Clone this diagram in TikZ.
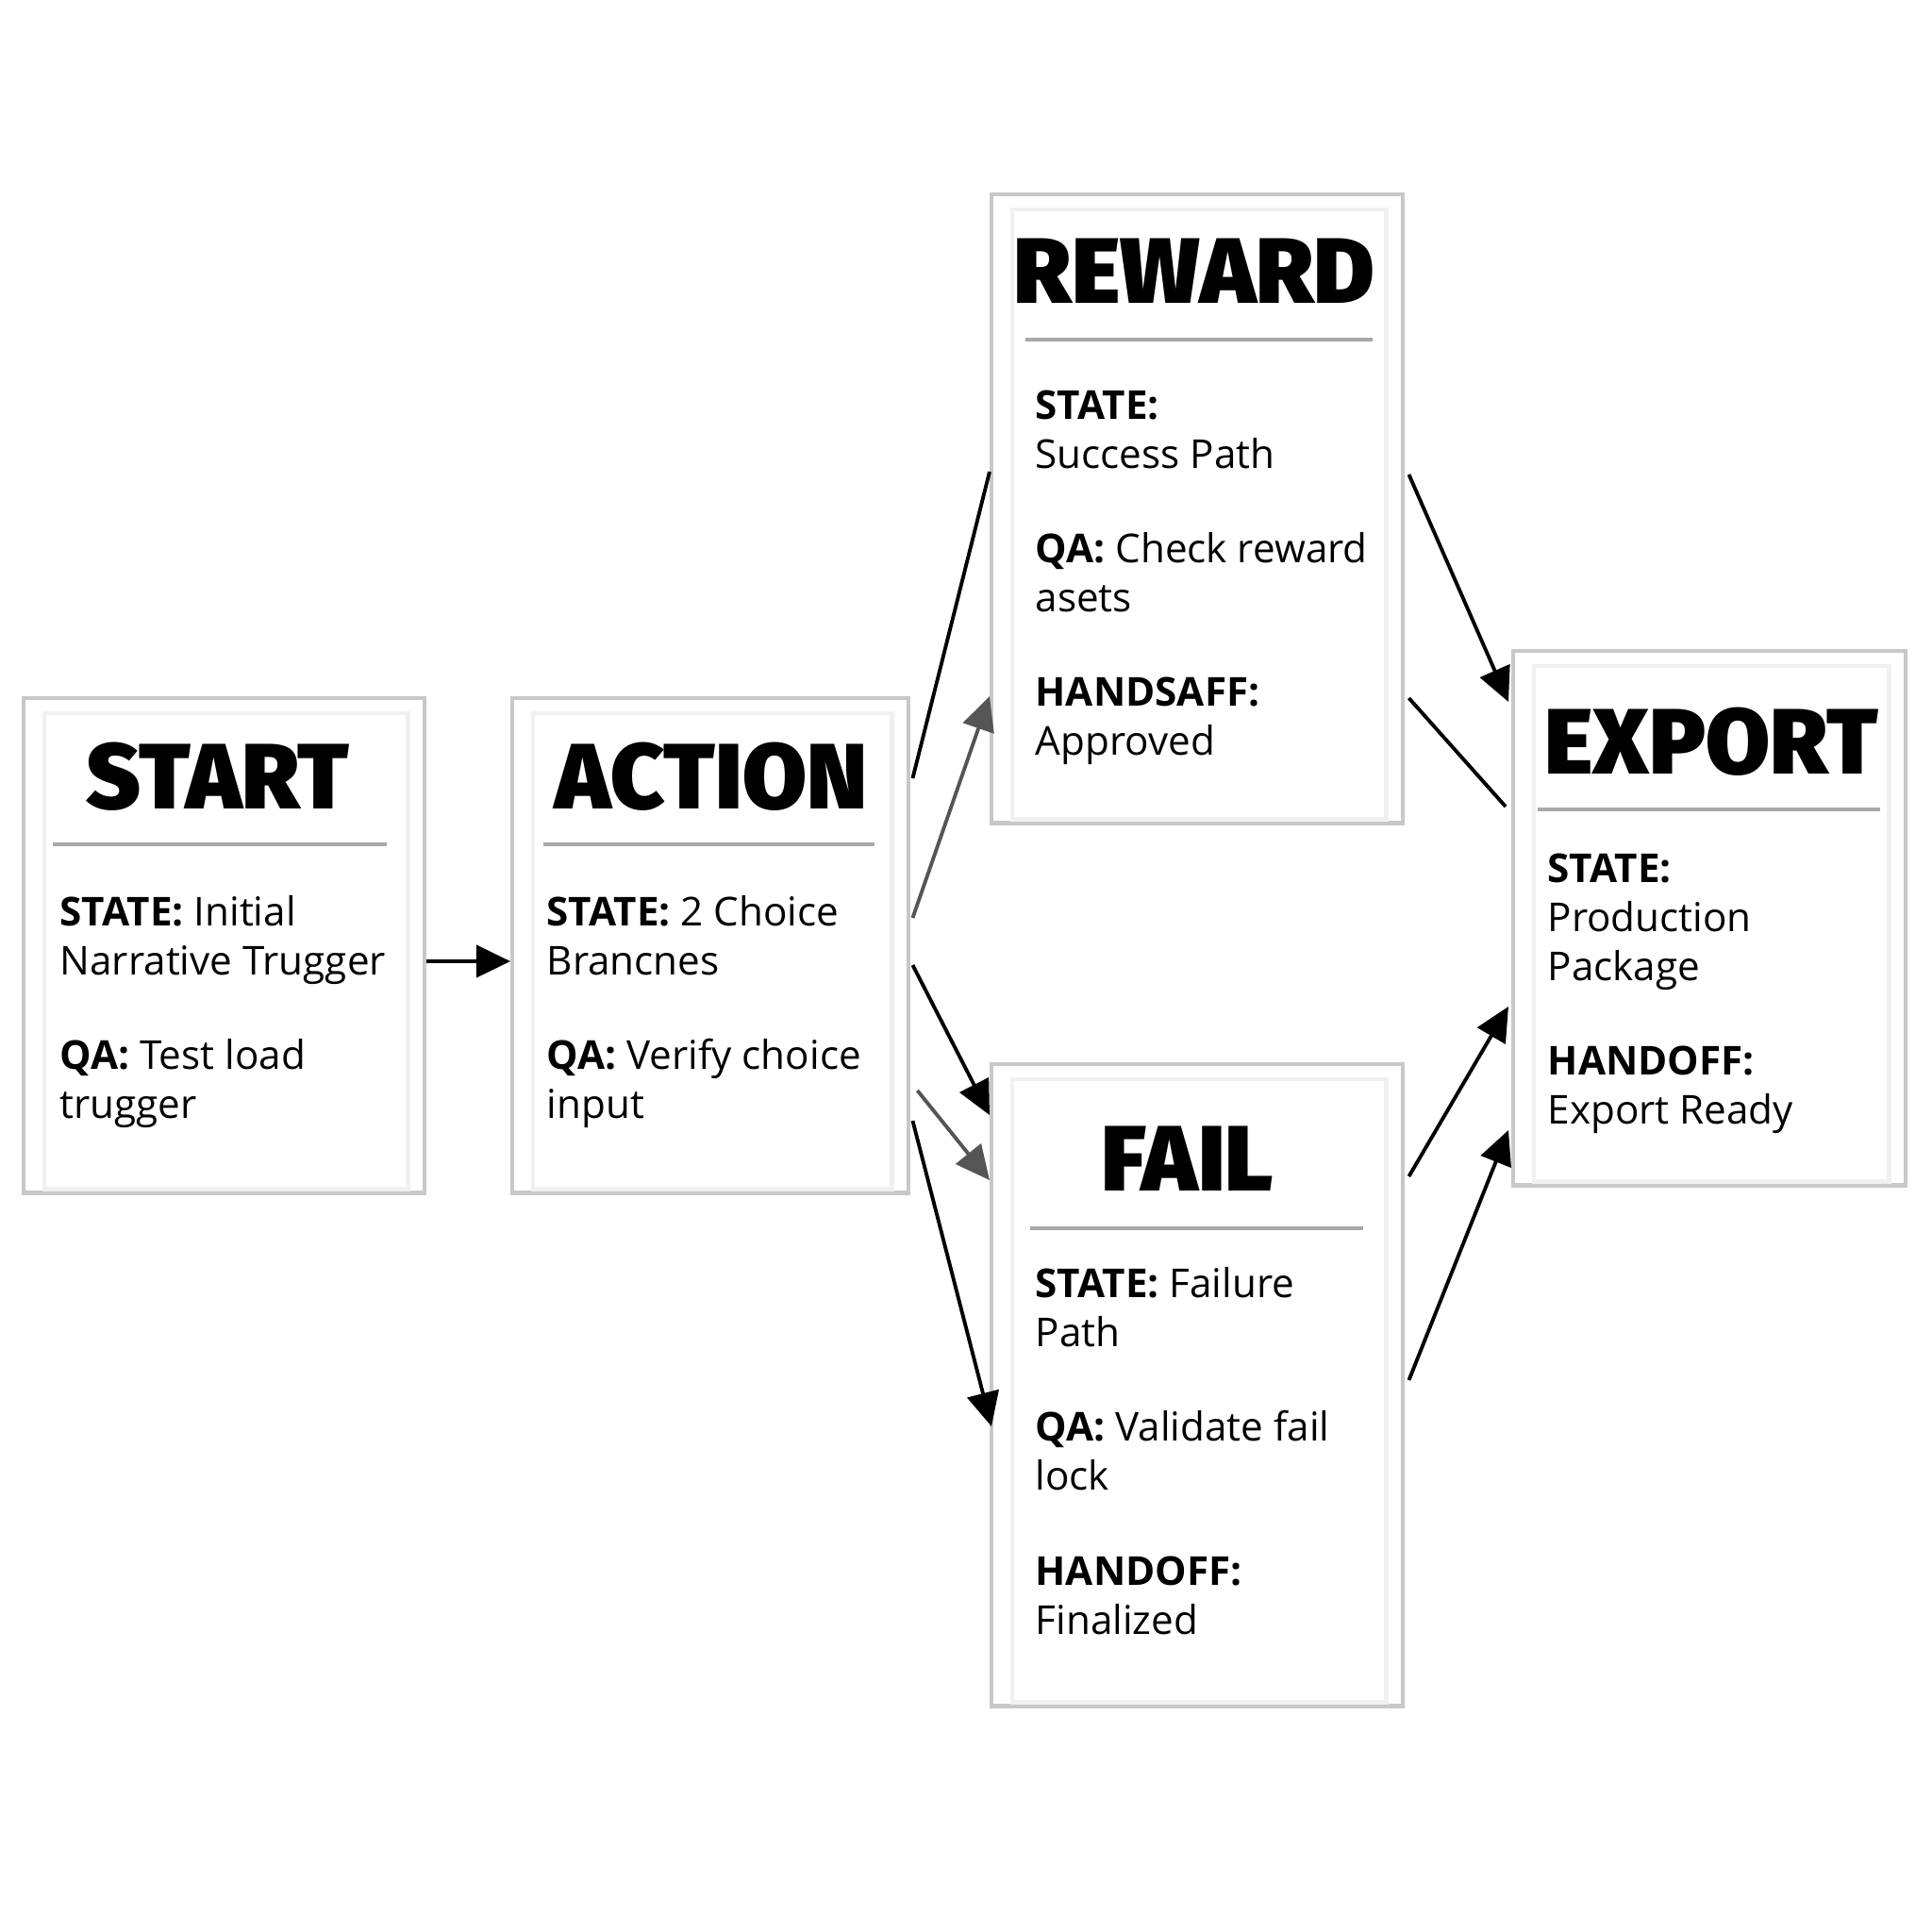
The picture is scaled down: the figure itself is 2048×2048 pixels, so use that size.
\documentclass[tikz,border=0pt]{standalone}
\usepackage{fontspec}
\setmainfont{Open Sans}
\newfontfamily\titlefont{Fira Sans Black}
\usepackage{xcolor}
\usetikzlibrary{
  arrows.meta,
  calc,
  positioning
}
\definecolor{cardline}{RGB}{200,200,200}
\definecolor{sheetline}{RGB}{240,240,240}
\definecolor{ruleline}{RGB}{168,168,168}
\definecolor{softink}{RGB}{85,85,85}
\tikzset{
  card/.style={
    draw=cardline,
    fill=white,
    line width=1.2pt,
    inner sep=0pt,
    anchor=north west
  },
  sheet/.style={
    draw=sheetline,
    line width=1.4pt
  },
  cardtitle/.style={
    font=\titlefont\fontsize{28}{30}\selectfont,
    inner sep=0pt
  },
  cardtext/.style={
    font=\fontsize{12}{14.8}\selectfont,
    align=left,
    anchor=north west,
    inner sep=0pt
  },
  divider/.style={
    draw=ruleline,
    line width=1.4pt
  },
  flow/.style={
    -{Triangle[length=3.6mm,width=3.4mm]},
    line width=1.1pt,
    draw=black
  },
  softflow/.style={
    flow,
    draw=softink
  },
  link/.style={
    line width=1.1pt,
    draw=black
  }
}

\begin{document}
\begin{tikzpicture}[x=0.01cm, y=-0.01cm]
  \useasboundingbox[fill=white] (0,0) rectangle (2048,2048);

  % cards
  \node[card, minimum width=4.25cm, minimum height=5.24cm] (start) at (23,738) {};
  \node[card, minimum width=4.20cm, minimum height=5.24cm] (action) at (541,738) {};
  \node[card, minimum width=4.36cm, minimum height=6.66cm] (reward) at (1049,204) {};
  \node[card, minimum width=4.36cm, minimum height=6.80cm] (fail) at (1049,1126) {};
  \node[card, minimum width=4.16cm, minimum height=5.66cm] (export) at (1602,688) {};

  \foreach \c in {start,action,reward,fail,export}
    \draw[sheet] ($(\c.north west)+(24,18)$) rectangle ($(\c.south east)+(-20,-6)$);

  % titles
  \node[cardtitle] (start-title) at (231,823) {START};
  \node[cardtitle] (action-title) at (754,823) {ACTION};
  \node[cardtitle] (reward-title) at (1266,287) {REWARD};
  \node[cardtitle] (fail-title) at (1259,1228) {FAIL};
  \node[cardtitle] (export-title) at (1814,786) {EXPORT};

  \draw[divider] ($(start.north west)+(33,157)$) -- ($(start.north east)+(-42,157)$);
  \draw[divider] ($(action.north west)+(35,157)$) -- ($(action.north east)+(-38,157)$);
  \draw[divider] ($(reward.north west)+(38,156)$) -- ($(reward.north east)+(-34,156)$);
  \draw[divider] ($(fail.north west)+(43,176)$) -- ($(fail.north east)+(-44,176)$);
  \draw[divider] ($(export.north west)+(28,170)$) -- ($(export.north east)+(-29,170)$);

  % card texts
  \node[cardtext] (start-text) at (63,949) {
    \textbf{STATE:} Initial\\
    Narrative Trugger\\[4.8mm]
    \textbf{QA:} Test load\\
    trugger
  };
  \node[cardtext] (action-text) at (579,949) {
    \textbf{STATE:} 2 Choice\\
    Brancnes\\[4.8mm]
    \textbf{QA:} Verify choice\\
    input
  };
  \node[cardtext] (reward-text) at (1097,413) {
    \textbf{STATE:}\\
    Success Path\\[4.8mm]
    \textbf{QA:} Check reward\\
    asets\\[4.8mm]
    \textbf{HANDSAFF:}\\
    Approved
  };
  \node[cardtext] (fail-text) at (1097,1343) {
    \textbf{STATE:} Failure\\
    Path\\[4.8mm]
    \textbf{QA:} Validate fail\\
    lock\\[4.8mm]
    \textbf{HANDOFF:}\\
    Finalized
  };
  \node[cardtext] (export-text) at (1640,904) {
    \textbf{STATE:}\\
    Production\\
    Package\\[4.8mm]
    \textbf{HANDOFF:}\\
    Export Ready
  };

  % connectors
  \draw[flow] ($(start.north east)+(0,281)$) -- ($(action.north west)+(0,281)$);

  \draw[link] ($(action.north east)+(2,87)$) -- ($(reward.north west)+(0,296)$);
  \draw[softflow] ($(action.north east)+(2,235)$) -- ($(reward.north west)+(0,534)$);
  \draw[flow] ($(action.north east)+(2,285)$) -- ($(fail.north west)+(0,56)$);
  \draw[softflow] ($(action.north east)+(7,418)$) -- ($(fail.north west)+(0,125)$);
  \draw[flow] ($(action.north east)+(2,450)$) -- ($(fail.north west)+(2,386)$);

  \draw[flow] ($(reward.north east)+(4,299)$) -- ($(export.north west)+(-3,56)$);
  \draw[link] ($(reward.north east)+(4,536)$) -- ($(export.north west)+(-6,167)$);
  \draw[flow] ($(fail.north east)+(4,121)$) -- ($(export.north west)+(-3,379)$);
  \draw[flow] ($(fail.north east)+(4,337)$) -- ($(export.north west)+(-3,510)$);
\end{tikzpicture}
\end{document}
